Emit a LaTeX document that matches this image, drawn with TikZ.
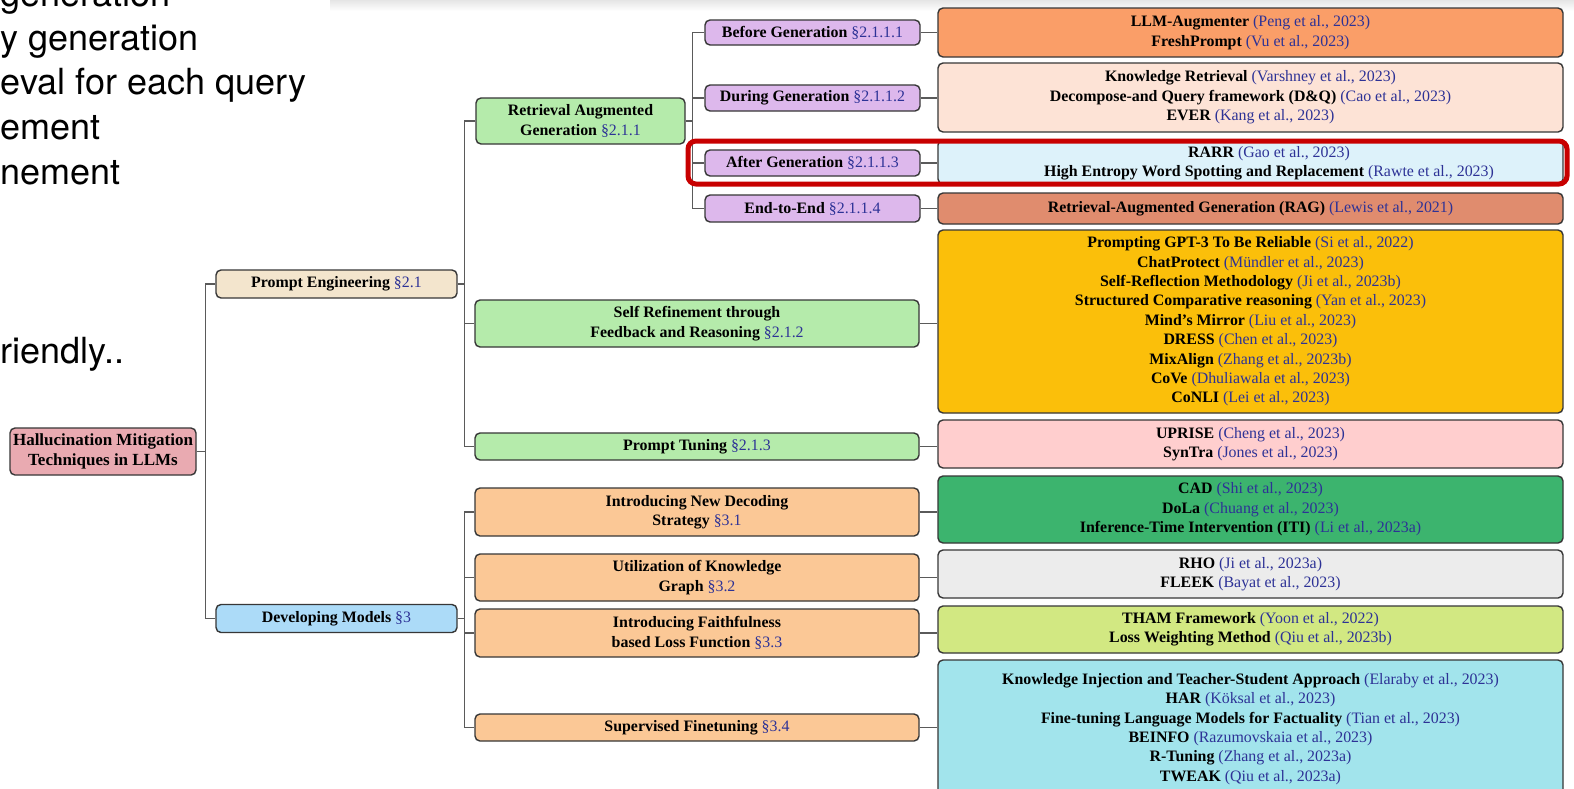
\documentclass[tikz,border=0pt]{standalone}
\usepackage{fontspec}
\setmainfont{Liberation Serif}
\newfontfamily\slidefont{TeX Gyre Heros}
\usetikzlibrary{calc}

\definecolor{citeblue}{RGB}{45,50,150}
\definecolor{boxline}{RGB}{55,55,55}
\definecolor{connline}{RGB}{90,90,90}
\definecolor{rootpink}{RGB}{233,170,177}
\definecolor{engbeige}{RGB}{243,229,205}
\definecolor{devblue}{RGB}{172,219,248}
\definecolor{subgreen}{RGB}{181,235,171}
\definecolor{sublilac}{RGB}{221,184,236}
\definecolor{suborange}{RGB}{251,200,150}
\definecolor{leafA}{RGB}{250,158,104}
\definecolor{leafB}{RGB}{253,227,214}
\definecolor{leafC}{RGB}{221,242,250}
\definecolor{leafD}{RGB}{224,140,110}
\definecolor{leafE}{RGB}{251,191,10}
\definecolor{leafF}{RGB}{255,206,206}
\definecolor{leafG}{RGB}{60,180,110}
\definecolor{leafH}{RGB}{236,236,236}
\definecolor{leafI}{RGB}{210,232,130}
\definecolor{leafJ}{RGB}{162,228,236}
\definecolor{markred}{RGB}{200,0,0}

\newcommand{\rf}[1]{{\mdseries\color{citeblue}(#1)}}
\newcommand{\secref}[1]{{\mdseries\color{citeblue}\S#1}}

\begin{document}
\begin{tikzpicture}[x=1pt,y=-1pt,
  box/.style={draw=boxline, line width=1.4pt, rounded corners=5pt, align=center,
    inner sep=0pt, text=black, font=\fontsize{15.9}{19.4}\selectfont\bfseries},
  leaf/.style={box, minimum width=625pt},
  lvlthree/.style={box, fill=sublilac, minimum width=215pt},
  conn/.style={draw=connline, line width=1.2pt},
  slide/.style={anchor=base west, inner sep=0pt, text=black,
    font=\slidefont\fontsize{36}{43}\selectfont},
  plaintext/.style={inner sep=0pt, align=center, text=black,
    font=\fontsize{15.9}{19.4}\selectfont\bfseries},
  highlight/.style={draw=markred, line width=5pt, rounded corners=8pt}]

\useasboundingbox (0,0) rectangle (1574,788);
\clip (0,0) rectangle (1574,788);
\fill[white] (0,0) rectangle (1574,788);
\shade[top color=black!10, bottom color=white] (330,0) rectangle (1574,11);

% bullet text of the slide, running off the left edge
\node[slide] (s1) at (0.5,6) {generation};
\node[slide] (s2) at (0.5,50) {y generation};
\node[slide] (s3) at (0.5,94) {eval for each query};
\node[slide] (s4) at (0.5,139) {ement};
\node[slide] (s5) at (0.5,184) {nement};
\node[slide] (s6) at (0.5,363) {riendly..};

% root and first level
\node[box, fill=rootpink, minimum width=186pt, minimum height=47pt,
  font=\fontsize{17}{20}\selectfont\bfseries] (root) at (103,451.5)
  {Hallucination Mitigation\\Techniques in LLMs};
\node[box, fill=engbeige, minimum width=241pt, minimum height=28pt] (pe) at (336.5,284)
  {Prompt Engineering \secref{2.1}};
\node[box, fill=devblue, minimum width=241pt, minimum height=28pt] (dm) at (336.5,618.5)
  {Developing Models \secref{3}};

% second level
\node[box, fill=subgreen, minimum width=209pt, minimum height=46pt] (rag) at (580.5,121)
  {Retrieval Augmented\\Generation \secref{2.1.1}};
\node[box, fill=subgreen, minimum width=444pt, minimum height=47pt] (sr) at (697,323.5)
  {Self Refinement through\\Feedback and Reasoning \secref{2.1.2}};
\node[box, fill=subgreen, minimum width=444pt, minimum height=27pt] (pt) at (697,446.5)
  {Prompt Tuning \secref{2.1.3}};
\node[box, fill=suborange, minimum width=444pt, minimum height=48pt] (dec) at (697,512)
  {Introducing New Decoding\\Strategy \secref{3.1}};
\node[box, fill=suborange, minimum width=444pt, minimum height=47pt] (kg) at (697,577.5)
  {Utilization of Knowledge\\Graph \secref{3.2}};
\node[box, fill=suborange, minimum width=444pt, minimum height=48pt] (ff) at (697,633)
  {Introducing Faithfulness\\based Loss Function \secref{3.3}};
\node[box, fill=suborange, minimum width=444pt, minimum height=27pt] (sft) at (697,727.5)
  {Supervised Finetuning \secref{3.4}};

% third level under retrieval augmented generation
\node[lvlthree, minimum height=25pt] (bg) at (812.5,32.5) {Before Generation \secref{2.1.1.1}};
\node[lvlthree, minimum height=26pt] (dg) at (812.5,98) {During Generation \secref{2.1.1.2}};
\node[lvlthree, minimum height=26pt] (ag) at (812.5,163) {After Generation \secref{2.1.1.3}};
\node[lvlthree, minimum height=27pt] (ee) at (812.5,208.5) {End-to-End \secref{2.1.1.4}};

% leaves
\node[leaf, fill=leafA, minimum height=49pt] (la) at (1250.5,32.5)
  {LLM-Augmenter \rf{Peng et al., 2023}\\FreshPrompt \rf{Vu et al., 2023}};
\node[leaf, fill=leafB, minimum height=69pt] (lb) at (1250.5,97.5)
  {Knowledge Retrieval \rf{Varshney et al., 2023}\\
   Decompose-and Query framework (D\&Q) \rf{Cao et al., 2023}\\
   EVER \rf{Kang et al., 2023}};
\node[leaf, fill=leafC, minimum height=44pt] (lc) at (1250.5,162) {};
\node[plaintext] (lctext) at (1269,163)
  {RARR \rf{Gao et al., 2023}\\
   High Entropy Word Spotting and Replacement \rf{Rawte et al., 2023}};
\node[leaf, fill=leafD, minimum height=31pt] (ld) at (1250.5,208.5)
  {Retrieval-Augmented Generation (RAG) \rf{Lewis et al., 2021}};
\node[leaf, fill=leafE, minimum height=183pt] (le) at (1250.5,321.5)
  {Prompting GPT-3 To Be Reliable \rf{Si et al., 2022}\\
   ChatProtect \rf{Mündler et al., 2023}\\
   Self-Reflection Methodology \rf{Ji et al., 2023b}\\
   Structured Comparative reasoning \rf{Yan et al., 2023}\\
   Mind’s Mirror \rf{Liu et al., 2023}\\
   DRESS \rf{Chen et al., 2023}\\
   MixAlign \rf{Zhang et al., 2023b}\\
   CoVe \rf{Dhuliawala et al., 2023}\\
   CoNLI \rf{Lei et al., 2023}};
\node[leaf, fill=leafF, minimum height=48pt] (lf) at (1250.5,444)
  {UPRISE \rf{Cheng et al., 2023}\\SynTra \rf{Jones et al., 2023}};
\node[leaf, fill=leafG, minimum height=67pt] (lg) at (1250.5,509.5)
  {CAD \rf{Shi et al., 2023}\\DoLa \rf{Chuang et al., 2023}\\
   Inference-Time Intervention (ITI) \rf{Li et al., 2023a}};
\node[leaf, fill=leafH, minimum height=48pt] (lh) at (1250.5,574)
  {RHO \rf{Ji et al., 2023a}\\FLEEK \rf{Bayat et al., 2023}};
\node[leaf, fill=leafI, minimum height=47pt] (li) at (1250.5,629.5)
  {THAM Framework \rf{Yoon et al., 2022}\\Loss Weighting Method \rf{Qiu et al., 2023b}};
\node[leaf, fill=leafJ, minimum height=138pt] (lj) at (1250.5,729)
  {Knowledge Injection and Teacher-Student Approach \rf{Elaraby et al., 2023}\\
   HAR \rf{Köksal et al., 2023}\\
   Fine-tuning Language Models for Factuality \rf{Tian et al., 2023}\\
   BEINFO \rf{Razumovskaia et al., 2023}\\
   R-Tuning \rf{Zhang et al., 2023a}\\
   TWEAK \rf{Qiu et al., 2023a}};

% tree connectors
\draw[conn] (root.east) -- ++(9,0) coordinate (t0);
\draw[conn] (pe.west) -| (t0) |- (dm.west);

\draw[conn] (pe.east) -- ++(7,0) coordinate (t1);
\draw[conn] (rag.west) -| (t1) |- (pt.west);
\draw[conn] (t1 |- sr.west) -- (sr.west);

\draw[conn] (dm.east) -- ++(7,0) coordinate (t2);
\draw[conn] (dec.west) -| (t2) |- (sft.west);
\draw[conn] (t2 |- kg.west) -- (kg.west);
\draw[conn] (t2 |- ff.west) -- (ff.west);

\draw[conn] (rag.east) -- ++(7,0) coordinate (t3);
\draw[conn] (bg.west) -| (t3) |- (ee.west);
\draw[conn] (t3 |- dg.west) -- (dg.west);
\draw[conn] (t3 |- ag.west) -- (ag.west);

\draw[conn] (bg.east) -- (bg.east -| la.west);
\draw[conn] (dg.east) -- (dg.east -| lb.west);
\draw[conn] (ag.east) -- (ag.east -| lc.west);
\draw[conn] (ee.east) -- (ee.east -| ld.west);
\draw[conn] (sr.east) -- (sr.east -| le.west);
\draw[conn] (pt.east) -- (pt.east -| lf.west);
\draw[conn] (dec.east) -- (dec.east -| lg.west);
\draw[conn] (kg.east) -- (kg.east -| lh.west);
\draw[conn] (ff.east) -- (ff.east -| li.west);
\draw[conn] (sft.east) -- (sft.east -| lj.west);

% red marker around the after-generation row
\draw[highlight] (688,141) rectangle (1567,184);
\end{tikzpicture}
\end{document}
